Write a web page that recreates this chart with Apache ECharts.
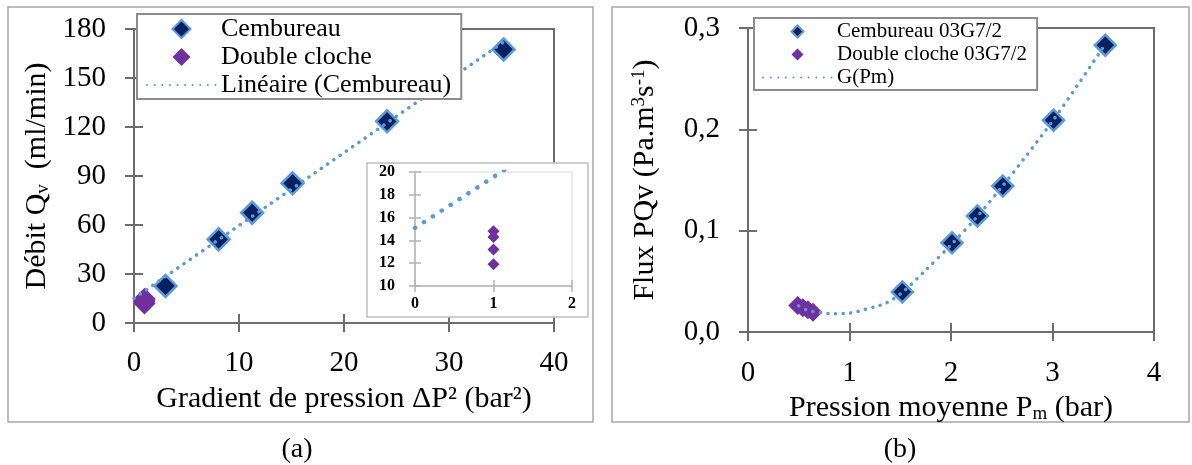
<!DOCTYPE html>
<html><head><meta charset="utf-8">
<script src="https://cdn.jsdelivr.net/npm/echarts@6/dist/echarts.min.js"></script>
<style>html,body{margin:0;padding:0;background:#fff}#c{width:1192px;height:465px}</style>
</head><body><div id="c"></div>
<script>
// ---- Panel (a) data ----
const gradCemb = [3, 8.06, 11.25, 15.1, 24.1, 35.2];
const debitCemb = [22.7, 51.2, 67.5, 85.5, 123.5, 167.5];
const gradDC = [1, 1, 1, 1];
const debitDC = [11.9, 13.2, 14.3, 14.8];
const linGrad = [0, 35.3];
const linDebit = [15.1, 172.5];
const gradTicks = ['0', '10', '20', '30', '40'];
const debitTicks = ['0', '30', '60', '90', '120', '150', '180'];
const insetXTicks = ['0', '1', '2'];
const insetYTicks = ['10', '12', '14', '16', '18', '20'];
// ---- Panel (b) data ----
const pmCemb = [1.52, 2.01, 2.26, 2.51, 3.01, 3.52];
const fluxCemb = [0.0395, 0.088, 0.1145, 0.144, 0.209, 0.283];
const pmDC = [0.49, 0.54, 0.59, 0.64];
const fluxDC = [0.0262, 0.024, 0.022, 0.0195];
const pmG = [0.5, 0.58, 0.67, 0.75, 0.83, 0.99, 1.07, 1.14, 1.29, 1.37, 1.52, 1.75, 2.0, 2.25, 2.5, 2.75, 3.0, 3.25, 3.52];
const fluxG = [0.0257, 0.0217, 0.0197, 0.0188, 0.0180, 0.0186, 0.0200, 0.0220, 0.0260, 0.0290, 0.0390, 0.0610, 0.0860, 0.1130, 0.1430, 0.1750, 0.2080, 0.2440, 0.2840];
const pmTicks = ['0', '1', '2', '3', '4'];
const fluxTicks = ['0,0', '0,1', '0,2', '0,3'];

const zip = (a, b) => a.map((v, i) => [v, b[i]]);
const FF = 'Liberation Serif';
const AX = '#6d6d6d';
const NAVY = '#0a2060', LBLUE = '#5b9bd5', PURPLE = '#7030a0';
const dotted = { color: LBLUE, width: 3.5, type: [0.1, 7.5], cap: 'round' };
const TITLE_FS = 30;
const DIAMOND = 'path://M0,-10 L10,0 L0,10 L-10,0 Z';

const richT = (fs) => ({
  n: { fontFamily: FF, fontSize: fs, color: '#000', lineHeight: 36, verticalAlign: 'middle' },
  sub: { fontFamily: FF, fontSize: Math.round(fs * 0.62), color: '#000', lineHeight: 36, verticalAlign: 'bottom', padding: [0, 0, 2, 0] },
  sup: { fontFamily: FF, fontSize: Math.round(fs * 0.62), color: '#000', lineHeight: 36, verticalAlign: 'top', padding: [3, 0, 0, 0] }
});

function mainAxis(opts) {
  const base = {
    gridIndex: opts.grid, type: 'value', min: opts.min, max: opts.max, interval: opts.interval,
    position: opts.position, z: opts.z || 0,
    axisLine: { show: true, onZero: false, lineStyle: { color: opts.lineColor || AX, width: opts.lineWidth || 2 } },
    axisTick: { show: true, inside: false, length: opts.tickLen || 9, lineStyle: { color: opts.lineColor || AX, width: opts.lineWidth || 2 } },
    splitLine: { show: false },
    axisLabel: {
      show: true, margin: opts.margin, fontFamily: FF, fontSize: opts.fs, color: '#000', fontWeight: opts.bold ? 'bold' : 'normal',
      formatter: (v, i) => opts.labels[i]
    }
  };
  if (opts.name) {
    base.name = opts.name;
    base.nameLocation = 'middle';
    base.nameGap = opts.nameGap;
    base.nameTextStyle = { fontFamily: FF, fontSize: TITLE_FS, color: '#000', rich: richT(TITLE_FS) };
  }
  return base;
}
function innerAxis(opts) {
  return {
    gridIndex: opts.grid, type: 'value', min: opts.min, max: opts.max, interval: opts.interval,
    position: opts.position, z: opts.z || 0,
    axisLine: { show: false, onZero: false },
    axisTick: { show: true, inside: true, length: opts.tickLen || 9, lineStyle: { color: opts.lineColor || AX, width: opts.lineWidth || 2 } },
    splitLine: { show: false },
    axisLabel: { show: false }
  };
}

const xa0 = { grid: 0, min: 0, max: 40, interval: 10, position: 'bottom', margin: 26, fs: 29, labels: gradTicks,
  name: '{n|Gradient de pression ΔP² (bar²)}', nameGap: 58 };
const ya0 = { grid: 0, min: 0, max: 180, interval: 30, position: 'left', margin: 28, fs: 29, labels: debitTicks,
  name: '{n|Débit Q}{sub|v}{n|  (ml/min)}', nameGap: 79 };
const xa1 = { grid: 1, min: 0, max: 2, interval: 1, position: 'bottom', margin: 10, fs: 16, bold: true, labels: insetXTicks,
  tickLen: 6, lineColor: '#b3b3b3', lineWidth: 1.5, z: 7 };
const ya1 = { grid: 1, min: 10, max: 20, interval: 2, position: 'left', margin: 20, fs: 16, bold: true, labels: insetYTicks,
  tickLen: 6, lineColor: '#b3b3b3', lineWidth: 1.5, z: 7 };
const xa2 = { grid: 2, min: 0, max: 4, interval: 1, position: 'bottom', margin: 27, fs: 29, labels: pmTicks,
  name: '{n|Pression moyenne P}{sub|m}{n| (bar)}', nameGap: 52 };
const ya2 = { grid: 2, min: 0, max: 0.3, interval: 0.1, position: 'left', margin: 28, fs: 29, labels: fluxTicks,
  name: '{n|Flux PQv (Pa.m}{sup|3}{n|s}{sup|-1}{n|)}', nameGap: 85 };

const option = {
  animation: false,
  backgroundColor: '#fff',
  grid: [
    { left: 134, top: 29, width: 420, height: 294, show: true, borderColor: AX, borderWidth: 2, backgroundColor: 'transparent', z: 0 },
    { left: 415, top: 172, width: 157, height: 114, show: true, borderColor: '#d9d9d9', borderWidth: 1, backgroundColor: 'transparent', z: 6 },
    { left: 748, top: 28, width: 406, height: 304, show: true, borderColor: AX, borderWidth: 2, backgroundColor: 'transparent', z: 0 }
  ],
  xAxis: [mainAxis(xa0), innerAxis(xa0), mainAxis(xa1), innerAxis(xa1), mainAxis(xa2), innerAxis(xa2)],
  yAxis: [mainAxis(ya0), innerAxis(ya0), mainAxis(ya1), innerAxis(ya1), mainAxis(ya2), innerAxis(ya2)],
  legend: [
    {
      data: [{ name: 'Cembureau', icon: DIAMOND }, { name: 'Double cloche', icon: DIAMOND }, 'Linéaire (Cembureau)'],
      symbolKeepAspect: true,
      orient: 'vertical', left: 137, top: 14, itemWidth: 69, itemHeight: 18, itemGap: 0,
      padding: [1, 10, 0, 9], borderColor: '#8c8c8c', borderWidth: 2, backgroundColor: '#fff', selectedMode: false,
      textStyle: { fontFamily: FF, fontSize: 26, lineHeight: 28, color: '#000' }
    },
    {
      data: [{ name: 'Cembureau 03G7/2', icon: DIAMOND }, { name: 'Double cloche 03G7/2', icon: DIAMOND }, 'G(Pm)'],
      symbolKeepAspect: true,
      orient: 'vertical', left: 754, top: 18, itemWidth: 69, itemHeight: 12, itemGap: 0,
      padding: [2, 10, 1, 8], borderColor: '#8c8c8c', borderWidth: 2, backgroundColor: '#fff', selectedMode: false,
      textStyle: { fontFamily: FF, fontSize: 21, lineHeight: 23, color: '#000' }
    }
  ],
  series: [
    { name: 'Cembureau', type: 'scatter', xAxisIndex: 0, yAxisIndex: 0, data: zip(gradCemb, debitCemb),
      symbol: 'diamond', symbolSize: 22, z: 2, itemStyle: { color: NAVY, borderColor: LBLUE, borderWidth: 2.5, opacity: 1 } },
    { name: 'Double cloche', type: 'scatter', xAxisIndex: 0, yAxisIndex: 0, data: zip(gradDC, debitDC),
      symbol: 'diamond', symbolSize: 22, z: 2, itemStyle: { color: PURPLE, borderWidth: 0, opacity: 1 } },
    { name: 'Linéaire (Cembureau)', type: 'line', xAxisIndex: 0, yAxisIndex: 0, data: zip(linGrad, linDebit),
      symbol: 'none', z: 3, lineStyle: dotted, itemStyle: { color: 'rgba(0,0,0,0)' } },
    { name: 'inset DC', type: 'scatter', xAxisIndex: 2, yAxisIndex: 2, data: zip(gradDC, debitDC),
      symbol: 'diamond', symbolSize: 12, z: 8, itemStyle: { color: PURPLE, opacity: 1 } },
    { name: 'inset lin', type: 'line', xAxisIndex: 2, yAxisIndex: 2, data: zip(linGrad, linDebit), clip: true,
      symbol: 'none', z: 8, lineStyle: { color: LBLUE, width: 4.5, type: [0.1, 10.5], cap: 'round' } },
    { name: 'Cembureau 03G7/2', type: 'scatter', xAxisIndex: 4, yAxisIndex: 4, data: zip(pmCemb, fluxCemb),
      symbol: 'diamond', symbolSize: 21, z: 2, itemStyle: { color: NAVY, borderColor: LBLUE, borderWidth: 2.5, opacity: 1 } },
    { name: 'Double cloche 03G7/2', type: 'scatter', xAxisIndex: 4, yAxisIndex: 4, data: zip(pmDC, fluxDC),
      symbol: 'diamond', symbolSize: 19, z: 2, itemStyle: { color: PURPLE, opacity: 1 } },
    { name: 'G(Pm)', type: 'line', xAxisIndex: 4, yAxisIndex: 4, data: zip(pmG, fluxG), smooth: 0.3,
      symbol: 'none', z: 3, lineStyle: dotted, itemStyle: { color: 'rgba(0,0,0,0)' } }
  ],
  graphic: [
    { type: 'rect', z: 0, shape: { x: 8, y: 7, width: 585, height: 415 }, style: { fill: 'none', stroke: '#a6a6a6', lineWidth: 1.5 } },
    { type: 'rect', z: 0, shape: { x: 612, y: 7, width: 577, height: 415 }, style: { fill: 'none', stroke: '#a6a6a6', lineWidth: 1.5 } },
    { type: 'rect', z: 5, shape: { x: 367, y: 163, width: 221, height: 154 }, style: { fill: '#fff', stroke: '#bfbfbf', lineWidth: 1.5 } },
    { type: 'text', z: 5, x: 297, y: 450, style: { text: '(a)', font: '28px "Liberation Serif"', fill: '#000', align: 'center', verticalAlign: 'middle' } },
    { type: 'text', z: 5, x: 900, y: 450, style: { text: '(b)', font: '28px "Liberation Serif"', fill: '#000', align: 'center', verticalAlign: 'middle' } }
  ]
};
const chart = echarts.init(document.getElementById('c'), null, { renderer: 'canvas' });
chart.setOption(option);
</script></body></html>
